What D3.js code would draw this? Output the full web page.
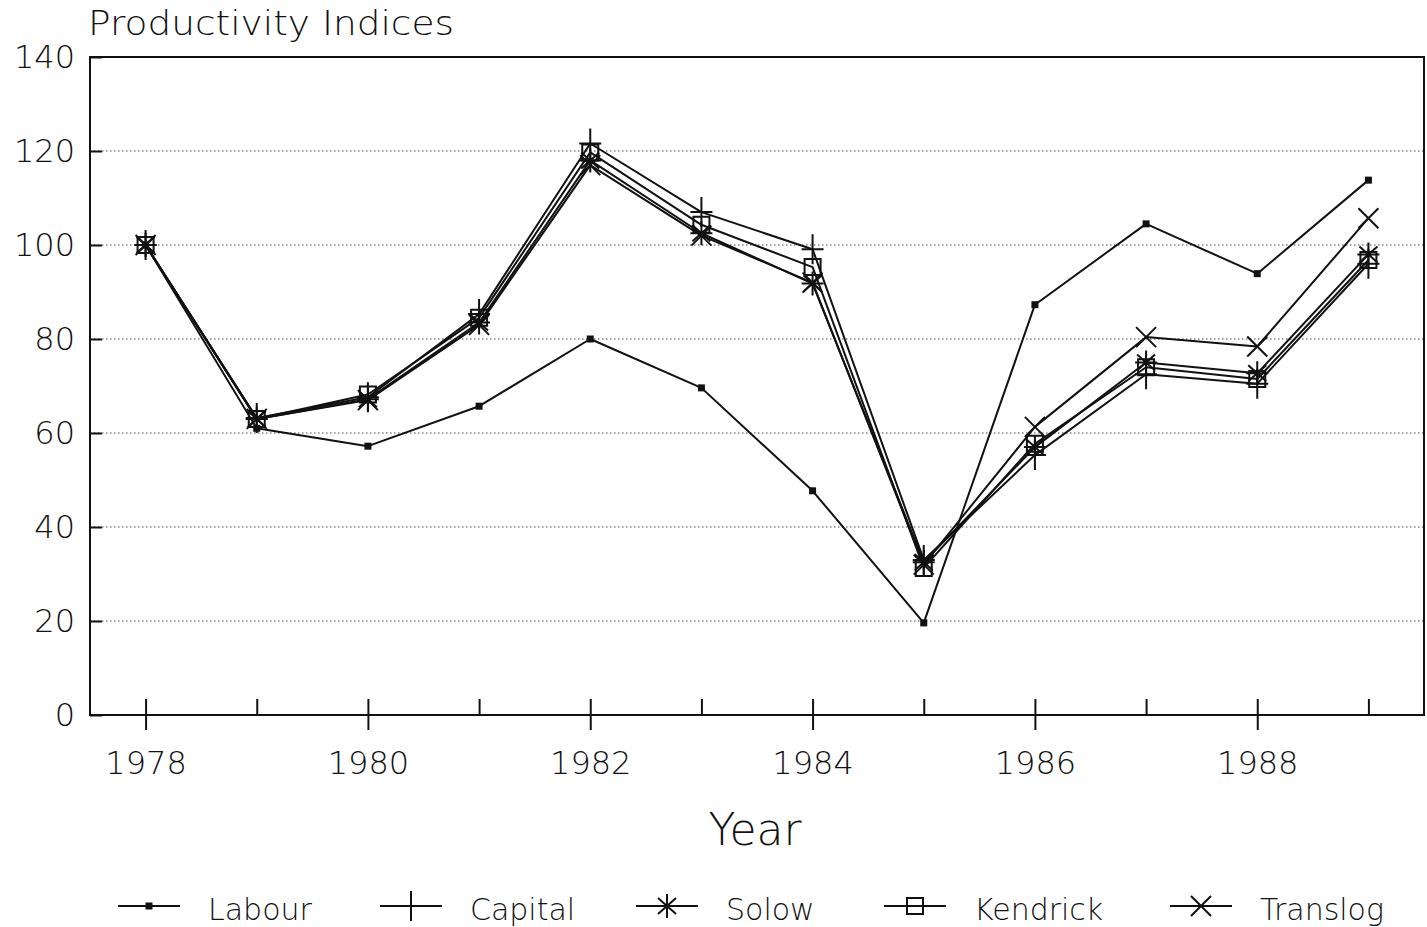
<!DOCTYPE html>
<html>
<head>
<meta charset="utf-8">
<script src="https://cdn.jsdelivr.net/npm/d3@7"></script>
<style>
  html, body { margin: 0; padding: 0; background: #fff; }
  svg { display: block; }
  text { font-family: "DejaVu Sans", "Liberation Sans", sans-serif; font-weight: 200; fill: #111; }
</style>
</head>
<body>
<svg id="chart" width="1427" height="927"></svg>
<script>
// Productivity indices, 1978 = 100
const years    = [1978, 1979, 1980, 1981, 1982, 1983, 1984, 1985, 1986, 1987, 1988, 1989];
const labour   = [100, 61.0, 57.2, 65.7, 80.0, 69.6, 47.7, 19.6, 87.3, 104.5, 93.9, 113.8];
const capital  = [100, 63.2, 67.6, 85.3, 121.6, 107.0, 99.1, 33.0, 55.3, 72.5, 70.5, 96.0];
const solow    = [100, 63.0, 67.2, 83.5, 118.0, 102.5, 91.8, 32.5, 57.0, 75.0, 72.7, 98.0];
const kendrick = [100, 63.0, 68.2, 84.5, 119.7, 104.3, 95.3, 31.3, 57.7, 74.0, 71.5, 96.8];
const translog = [100, 63.0, 67.0, 83.0, 117.0, 102.0, 92.0, 32.0, 61.3, 80.4, 78.4, 105.7];

const seriesNames = ["Labour", "Capital", "Solow", "Kendrick", "Translog"];
const seriesValues = [labour, capital, solow, kendrick, translog];
const seriesMarkers = ["dot", "plus", "star", "square", "cross"];

const yTicks = [0, 20, 40, 60, 80, 100, 120, 140];
const xMajorTicks = [1978, 1980, 1982, 1984, 1986, 1988];
const yTitle = "Productivity Indices";
const xTitle = "Year";

const FONT = "'DejaVu Sans', 'Liberation Sans', sans-serif";

const svg = d3.select("#chart");
const L = 90, R = 1424, T = 57, B = 715;

const x = d3.scaleLinear().domain([1977.5, 1989.5]).range([L, R]);
const y = d3.scaleLinear().domain([0, 140]).range([B, T]);

// dotted horizontal grid
svg.append("g")
  .selectAll("line")
  .data(yTicks.filter(v => v > 0 && v < 140))
  .join("line")
  .attr("x1", L).attr("x2", R)
  .attr("y1", d => y(d)).attr("y2", d => y(d))
  .attr("stroke", "#444")
  .attr("stroke-width", 1.2)
  .attr("stroke-dasharray", "1.5,2.5");

// frame
svg.append("rect")
  .attr("x", L).attr("y", T)
  .attr("width", R - L).attr("height", B - T)
  .attr("fill", "none")
  .attr("stroke", "#111")
  .attr("stroke-width", 2);

// y axis: inward ticks
const yAxis = svg.append("g")
  .attr("transform", `translate(${L},0)`)
  .call(d3.axisLeft(y).tickValues(yTicks).tickSize(-12).tickPadding(15).tickFormat(d3.format("d")));
yAxis.select(".domain").remove();
yAxis.selectAll(".tick line").attr("stroke", "#111").attr("stroke-width", 2);
yAxis.selectAll(".tick text")
  .style("font-family", FONT).style("font-weight", 200)
  .style("font-size", "32px").attr("fill", "#111");

// x axis: small inner ticks every year
const xInner = svg.append("g")
  .attr("transform", `translate(0,${B})`)
  .call(d3.axisBottom(x).tickValues(years).tickSize(-16).tickFormat(""));
xInner.select(".domain").remove();
xInner.selectAll(".tick line").attr("stroke", "#111").attr("stroke-width", 2);

// x axis: outer ticks and labels on even years
const xAxis = svg.append("g")
  .attr("transform", `translate(0,${B})`)
  .call(d3.axisBottom(x).tickValues(xMajorTicks).tickSize(15).tickPadding(21).tickFormat(d3.format("d")));
xAxis.select(".domain").remove();
xAxis.selectAll(".tick line").attr("stroke", "#111").attr("stroke-width", 2);
xAxis.selectAll(".tick text")
  .style("font-family", FONT).style("font-weight", 200)
  .style("font-size", "32px").attr("fill", "#111");

// titles
svg.append("text")
  .attr("x", 88).attr("y", 35)
  .style("font-size", "33px")
  .attr("textLength", 366)
  .attr("lengthAdjust", "spacingAndGlyphs")
  .text(yTitle);

svg.append("text")
  .attr("x", 755).attr("y", 845)
  .attr("text-anchor", "middle")
  .style("font-size", "44px")
  .text(xTitle);

// marker shapes
function markerPath(type) {
  switch (type) {
    case "plus":   return "M-11,0H11M0,-15V15";
    case "star":   return "M0,-12V12M-11,0H11M-9,-8L9,8M-9,8L9,-8";
    case "square": return "M-8,-8H8V8H-8Z";
    case "cross":  return "M-10,-10L10,10M-10,10L10,-10";
    default:       return "";
  }
}

function drawMarker(g, type, cx, cy) {
  if (type === "dot") {
    g.append("rect")
      .attr("x", cx - 3.5).attr("y", cy - 3.5)
      .attr("width", 7).attr("height", 7)
      .attr("fill", "#111");
  } else {
    g.append("path")
      .attr("d", markerPath(type))
      .attr("transform", `translate(${cx},${cy})`)
      .attr("fill", "none")
      .attr("stroke", "#111")
      .attr("stroke-width", 2);
  }
}

const line = d3.line().x(d => x(d[0])).y(d => y(d[1]));

seriesValues.forEach((vals, i) => {
  const pts = years.map((yr, j) => [yr, vals[j]]);
  const g = svg.append("g").attr("class", "series");
  g.append("path")
    .datum(pts)
    .attr("d", line)
    .attr("fill", "none")
    .attr("stroke", "#111")
    .attr("stroke-width", 2)
    .attr("stroke-linejoin", "round");
  pts.forEach(p => drawMarker(g, seriesMarkers[i], x(p[0]), y(p[1])));
});

// legend
const legendX = [118, 380, 636, 884, 1170];
const legendY = 906;
seriesNames.forEach((name, i) => {
  const g = svg.append("g");
  const x0 = legendX[i];
  g.append("line")
    .attr("x1", x0).attr("x2", x0 + 62)
    .attr("y1", legendY).attr("y2", legendY)
    .attr("stroke", "#111").attr("stroke-width", 2);
  drawMarker(g, seriesMarkers[i], x0 + 31, legendY);
  g.append("text")
    .attr("x", x0 + 90).attr("y", legendY + 14)
    .style("font-size", "30px")
    .text(name);
});
</script>
</body>
</html>
